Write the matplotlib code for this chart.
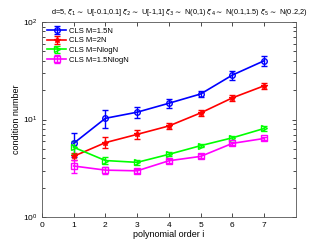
import matplotlib
matplotlib.use("Agg")
import matplotlib.pyplot as plt
import numpy as np

orders = [1, 2, 3, 4, 5, 6, 7]
blue_vals = [5.7, 10.3, 11.9, 14.7, 18.3, 28.6, 40.1]
blue_err = [1.6, 2.1, 1.45, 1.5, 1.3, 3.0, 4.6]
red_vals = [4.2, 5.8, 7.05, 8.6, 11.7, 16.7, 22.2]
red_err = [0.35, 0.75, 0.8, 0.55, 0.9, 1.3, 1.7]
green_vals = [5.2, 3.8, 3.64, 4.4, 5.4, 6.5, 8.1]
green_err = [0.8, 0.3, 0.25, 0.2, 0.2, 0.3, 0.4]
mag_vals = [3.34, 3.03, 2.98, 3.78, 4.19, 5.7, 6.4]
mag_err = [0.5, 0.25, 0.15, 0.2, 0.2, 0.25, 0.25]
labels = ["CLS M=1.5N", "CLS M=2N", "CLS M=NlogN", "CLS M=1.5NlogN"]

plt.rcParams['font.family'] = ['Liberation Sans', 'DejaVu Sans']
fig = plt.figure(figsize=(3.27, 2.45), dpi=100)
ax = fig.add_axes([0.128, 0.114, 0.777, 0.796])

series = [
    (blue_vals, blue_err, '#0000ff', 'o'),
    (red_vals, red_err, '#ff0000', '*'),
    (green_vals, green_err, '#00ff00', '>'),
    (mag_vals, mag_err, '#ff00ff', 's'),
]
for (v, e, c, m), lab in zip(series, labels):
    ax.errorbar(orders, v, yerr=e, color=c, marker=m, markersize=4,
                markerfacecolor='none', markeredgecolor=c, markeredgewidth=1,
                linewidth=1.2, capsize=2, elinewidth=1, label=lab)

ax.set_yscale('log')
ax.set_xlim(0, 8)
ax.set_ylim(1, 100)
ax.set_xticks([0, 1, 2, 3, 4, 5, 6, 7])
ax.tick_params(axis='both', which='both', direction='in', top=True, right=True,
               labelsize=6, length=2, width=0.5)
ax.tick_params(axis='both', which='major', length=3)
for s in ax.spines.values():
    s.set_linewidth(0.6)
    s.set_color('#555555')
ax.set_xlabel('polynomial order i', fontsize=6.5, labelpad=1)
ax.set_ylabel('condition number', fontsize=6.5, labelpad=1)
ax.set_title(r'd=5, $\xi_1$$\sim$ U[-0.1,0.1] $\xi_2$$\sim$ U[-1,1] $\xi_3$$\sim$ N(0,1) '
             r'$\xi_4$$\sim$ N(0.1,1.5) $\xi_5$$\sim$ N(0.2,2)', fontsize=5.3, pad=6,
             x=0.54)
leg = ax.legend(loc='upper left', fontsize=5.5, frameon=False, handlelength=2.5,
                borderaxespad=0.3, labelspacing=0.3, handletextpad=0.4)
fig.savefig('out.png', dpi=100)
